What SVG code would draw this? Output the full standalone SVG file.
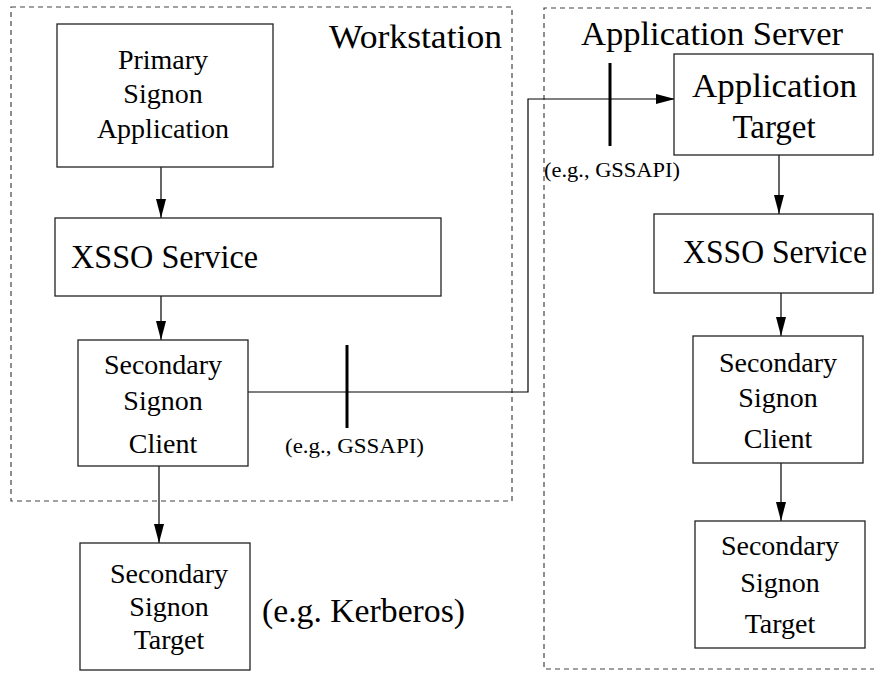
<svg xmlns="http://www.w3.org/2000/svg" width="874" height="679" viewBox="0 0 874 679" font-family="'Liberation Serif', 'Times New Roman', 'DejaVu Serif', serif">
<style>
text{font-family:'Liberation Serif','Times New Roman','DejaVu Serif',serif;fill:#000}
.box{fill:#fff;stroke:#222;stroke-width:1.3}
.grp{fill:none;stroke:#444;stroke-width:1.2;stroke-dasharray:5 4}
.c{stroke:#000;stroke-width:1.2;fill:none}
.tick{stroke:#000;stroke-width:3}
.m{font-size:28px;text-anchor:middle}
.l{font-size:33px}
.s{font-size:21px}
</style>
<defs>
<marker id="ah" markerWidth="19" markerHeight="10" refX="19" refY="5" orient="auto" markerUnits="userSpaceOnUse">
<path d="M0,0 L19,5 L0,10 Z" fill="#000"/>
</marker>
</defs>
<g id="workstation">
<rect class="grp" x="11" y="7" width="501" height="494"/>
<text class="l" x="329" y="48" textLength="173" lengthAdjust="spacingAndGlyphs">Workstation</text>
</g>
<g id="appserver">
<path class="grp" d="M880,8 H544 V669 H880"/>
<text class="l" x="581" y="45" textLength="262" lengthAdjust="spacingAndGlyphs">Application Server</text>
</g>
<g id="connectors">
<line class="c" x1="161" y1="167" x2="161" y2="218" marker-end="url(#ah)"/>
<line class="c" x1="161" y1="296" x2="161" y2="340" marker-end="url(#ah)"/>
<line class="c" x1="159" y1="466" x2="159" y2="543" marker-end="url(#ah)"/>
<path class="c" d="M248,392 H528 V99 H675" marker-end="url(#ah)"/>
<line class="c" x1="779" y1="155" x2="779" y2="214" marker-end="url(#ah)"/>
<line class="c" x1="781" y1="293" x2="781" y2="336" marker-end="url(#ah)"/>
<line class="c" x1="781" y1="463" x2="781" y2="521" marker-end="url(#ah)"/>
<line class="tick" x1="347" y1="345" x2="347" y2="428"/>
<line class="tick" x1="610" y1="63" x2="610" y2="146"/>
<text class="s" x="285" y="453" textLength="139" lengthAdjust="spacingAndGlyphs">(e.g., GSSAPI)</text>
<text class="s" x="544" y="177" textLength="136" lengthAdjust="spacingAndGlyphs">(e.g., GSSAPI)</text>
</g>
<g id="primary">
<rect class="box" x="57" y="24" width="216" height="143"/>
<text class="m" x="163" y="69">Primary</text>
<text class="m" x="163" y="103">Signon</text>
<text class="m" x="163" y="138">Application</text>
</g>
<g id="xsso-left">
<rect class="box" x="55" y="218" width="386" height="78"/>
<text class="l" x="71" y="268" textLength="187" lengthAdjust="spacingAndGlyphs">XSSO Service</text>
</g>
<g id="client-left">
<rect class="box" x="78" y="340" width="170" height="126"/>
<text class="m" x="163" y="374">Secondary</text>
<text class="m" x="163" y="410">Signon</text>
<text class="m" x="163" y="453">Client</text>
</g>
<g id="target-left">
<rect class="box" x="80" y="543" width="170" height="127"/>
<text class="m" x="169" y="583">Secondary</text>
<text class="m" x="169" y="616">Signon</text>
<text class="m" x="169" y="649">Target</text>
</g>
<text class="l" x="262" y="622" textLength="203" lengthAdjust="spacingAndGlyphs">(e.g. Kerberos)</text>
<g id="app-target">
<rect class="box" x="674" y="54" width="199" height="101"/>
<text class="l" x="692" y="97" textLength="165" lengthAdjust="spacingAndGlyphs">Application</text>
<text class="l" x="774" y="138" text-anchor="middle">Target</text>
</g>
<g id="xsso-right">
<rect class="box" x="654" y="214" width="219" height="79"/>
<text class="l" x="683" y="263" textLength="184" lengthAdjust="spacingAndGlyphs">XSSO Service</text>
</g>
<g id="client-right">
<rect class="box" x="693" y="336" width="170" height="127"/>
<text class="m" x="778" y="372">Secondary</text>
<text class="m" x="778" y="407">Signon</text>
<text class="m" x="778" y="448">Client</text>
</g>
<g id="target-right">
<rect class="box" x="695" y="521" width="170" height="127"/>
<text class="m" x="780" y="555">Secondary</text>
<text class="m" x="780" y="592">Signon</text>
<text class="m" x="780" y="633">Target</text>
</g>
</svg>
